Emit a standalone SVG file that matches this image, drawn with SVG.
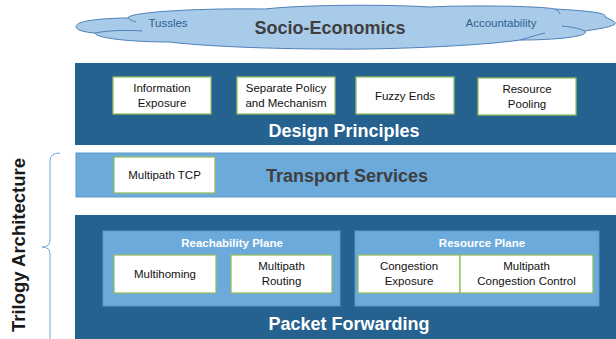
<svg xmlns="http://www.w3.org/2000/svg" width="616" height="339" viewBox="0 0 616 339">
<style>
.dark{fill:#25628F;}
.lite{fill:#6CAADC;stroke:#5E98CA;stroke-width:1;}
.box{fill:#FFFFFF;stroke:#93BE62;stroke-width:1.3;}
.t{font-family:"Liberation Sans",Arial,sans-serif;font-size:11.5px;fill:#111;text-anchor:middle;}
.h{font-family:"Liberation Sans",Arial,sans-serif;font-size:18px;font-weight:bold;text-anchor:middle;}
.hw{fill:#FFFFFF;}
.hg{fill:#3F3F3F;}
.pl{font-family:"Liberation Sans",Arial,sans-serif;font-size:11.5px;font-weight:bold;fill:#FFFFFF;text-anchor:middle;}
.cl{font-family:"Liberation Sans",Arial,sans-serif;font-size:11.5px;fill:#2F5F8E;text-anchor:middle;}
.line{fill:none;stroke:#4F80B8;stroke-width:1;}
</style>
<rect width="616" height="339" fill="#FFFFFF"/>

<g id="socio-economics">
<path d="M78 24 C85 19 118 18 128 18 C128 12 200 8 265 9 C300 5 380 4 430 7 C470 5 540 6 555 9 C590 11 608 13 605 17 C612 20 616 22 615 24 C610 28 590 30 585 31 C590 36 560 40 520 40 C480 46 380 50 330 49 C270 49 200 46 170 42 C130 42 95 38 95 33 C80 32 72 28 78 24 Z" fill="#A9CBEA" stroke="#4F80B8" stroke-width="1"/>
<path class="line" d="M95 33 C110 30 130 30 142 31"/>
<path class="line" d="M128 18 C130 20 133 21 136 22"/>
<path class="line" d="M585 31 C578 28 572 27 562 26"/>
<path class="line" d="M555 9 C558 11 560 12 560 14"/>
<path class="line" d="M520 40 C530 37 540 34 545 33"/>
<text class="cl" x="168" y="27">Tussles</text>
<text class="h hg" x="330" y="34">Socio-Economics</text>
<text class="cl" x="501" y="27">Accountability</text>
</g>

<g id="design-principles">
<rect class="dark" x="75" y="63" width="541" height="82"/>
<text class="h hw" x="344" y="137">Design Principles</text>
</g>
<g id="information-exposure">
<rect class="box" x="113" y="77" width="98" height="37"/>
<text class="t" x="162" y="92">Information</text>
<text class="t" x="162" y="107">Exposure</text>
</g>
<g id="separate-policy">
<rect class="box" x="237" y="77" width="98" height="37"/>
<text class="t" x="286" y="92">Separate Policy</text>
<text class="t" x="286" y="107">and Mechanism</text>
</g>
<g id="fuzzy-ends">
<rect class="box" x="356" y="77" width="98" height="37"/>
<text class="t" x="405" y="100">Fuzzy Ends</text>
</g>
<g id="resource-pooling">
<rect class="box" x="478" y="78" width="98" height="37"/>
<text class="t" x="527" y="93">Resource</text>
<text class="t" x="527" y="108">Pooling</text>
</g>

<g id="transport-services">
<rect class="lite" x="76" y="153" width="545" height="44"/>
<text class="h hg" x="347" y="182">Transport Services</text>
</g>
<g id="multipath-tcp">
<rect class="box" x="114" y="157" width="101" height="36"/>
<text class="t" x="164.5" y="179">Multipath TCP</text>
</g>

<g id="packet-forwarding">
<rect class="dark" x="75" y="215" width="541" height="124"/>
<text class="h hw" x="349" y="330">Packet Forwarding</text>
</g>
<g id="reachability-plane">
<rect class="lite" x="103" y="231" width="237" height="75"/>
<text class="pl" x="232" y="247">Reachability Plane</text>
</g>
<g id="multihoming">
<rect class="box" x="114" y="255" width="102" height="38"/>
<text class="t" x="165" y="278">Multihoming</text>
</g>
<g id="multipath-routing">
<rect class="box" x="231" y="255" width="101" height="38"/>
<text class="t" x="281.5" y="270">Multipath</text>
<text class="t" x="281.5" y="285">Routing</text>
</g>
<g id="resource-plane">
<rect class="lite" x="355" y="231" width="244" height="75"/>
<text class="pl" x="482" y="247">Resource Plane</text>
</g>
<g id="congestion-exposure">
<rect class="box" x="358" y="255" width="102" height="38"/>
<text class="t" x="409" y="270">Congestion</text>
<text class="t" x="409" y="285">Exposure</text>
</g>
<g id="multipath-congestion-control">
<rect class="box" x="460" y="255" width="133" height="38"/>
<text class="t" x="526.5" y="270">Multipath</text>
<text class="t" x="526.5" y="285">Congestion Control</text>
</g>

<g id="trilogy-architecture">
<text class="h" fill="#1A1A1A" style="font-size:18.5px" transform="translate(25 245) rotate(-90)" x="0" y="0">Trilogy Architecture</text>
</g>
<g id="connectors">
<path d="M60 153 Q50 153 50 161 L50 240 Q50 247 42 247 Q50 247 50 254 L50 339" fill="none" stroke="#6FA8DC" stroke-width="1"/>
</g>
</svg>
